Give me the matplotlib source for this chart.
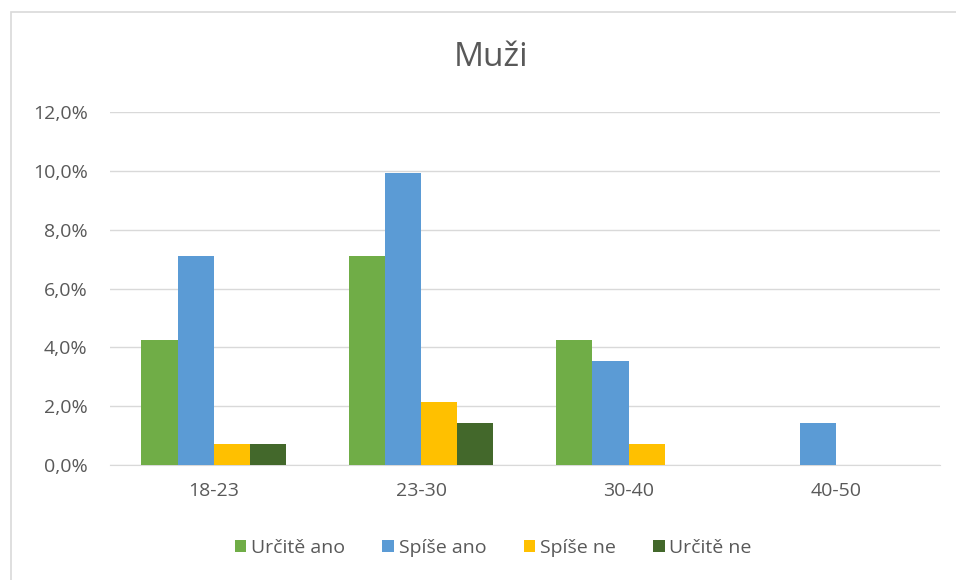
import numpy as np
import matplotlib
matplotlib.use("Agg")
from matplotlib import pyplot as plt
from matplotlib.patches import Rectangle
from matplotlib.ticker import FuncFormatter

plt.rcParams['font.family'] = ['Open Sans', 'DejaVu Sans']

# data (share of respondents, %)
categories = ['18-23', '23-30', '30-40', '40-50']
series_names = ['Určitě ano', 'Spíše ano', 'Spíše ne', 'Určitě ne']
urcite_ano = [4.26, 7.09, 4.26, 0.0]
spise_ano = [7.09, 9.93, 3.55, 1.42]
spise_ne = [0.71, 2.13, 0.71, 0.0]
urcite_ne = [0.71, 1.42, 0.0, 0.0]
colors = ['#70AD47', '#5B9BD5', '#FFC000', '#43682B']

values = [urcite_ano, spise_ano, spise_ne, urcite_ne]

fig = plt.figure(figsize=(9.56, 5.8), dpi=100)
ax = fig.add_axes([0.115, 0.198, 0.868, 0.609])

# light border round the chart
fig.patches.append(Rectangle((11 / 956, -0.01), 1.0, 1 - 12 / 580 + 0.01,
                             transform=fig.transFigure, fill=False,
                             edgecolor='#D9D9D9', linewidth=1.2))

x = np.arange(len(categories))
w = 0.174
for i, (name, vals) in enumerate(zip(series_names, values)):
    ax.bar(x + (i - 1.5) * w, vals, w, color=colors[i], label=name, zorder=3)

ax.set_xlim(-0.5, len(categories) - 0.5)
ax.set_ylim(0, 12)
ax.set_yticks(np.arange(0, 12.1, 2))
ax.yaxis.set_major_formatter(FuncFormatter(lambda v, p: f'{v:.1f}%'.replace('.', ',')))
ax.set_xticks(x)
ax.set_xticklabels(categories)

ax.grid(axis='y', color='#D9D9D9', linewidth=1, zorder=0)
for s in ['top', 'right', 'left']:
    ax.spines[s].set_visible(False)
ax.spines['bottom'].set_color('#D9D9D9')
ax.tick_params(axis='both', length=0, labelsize=14, labelcolor='#595959')
ax.tick_params(axis='y', pad=16)
ax.tick_params(axis='x', pad=12)

fig.text(0.514, 1 - 57 / 580, 'Muži', ha='center', va='center',
         fontsize=24, color='#595959')

fig.legend(loc='center', bbox_to_anchor=(0.516, 1 - 548 / 580), ncol=4,
           frameon=False, fontsize=14, handlelength=0.6, handleheight=0.6,
           handletextpad=0.25, columnspacing=1.9, labelcolor='#595959')

fig.savefig('out.png', dpi=100)
